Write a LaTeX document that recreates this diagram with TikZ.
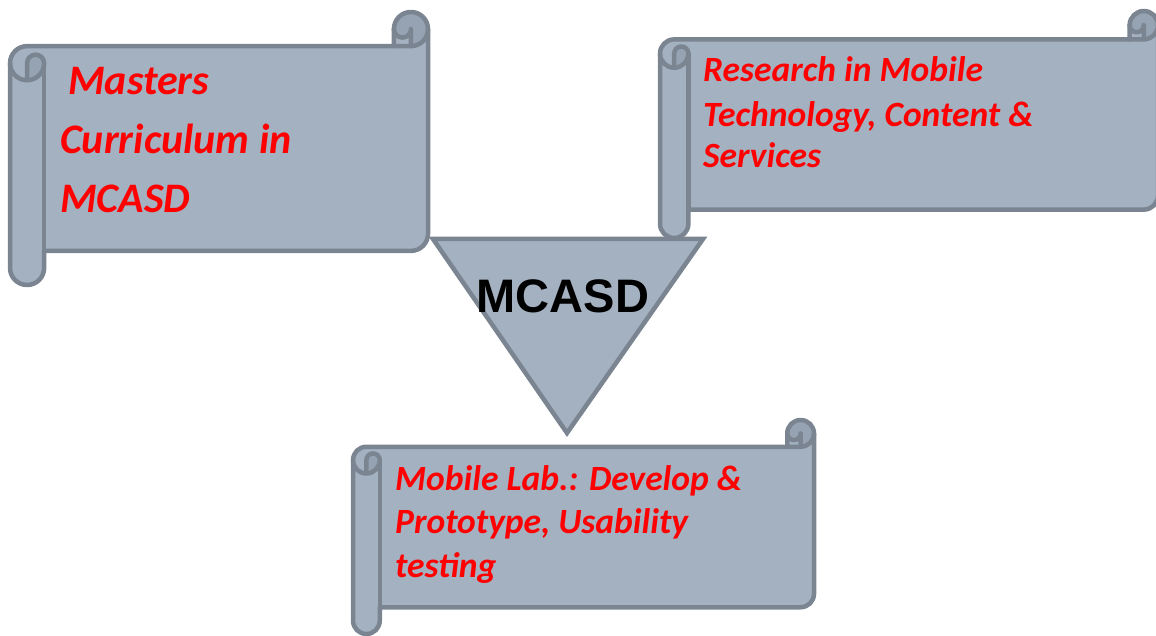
\documentclass[tikz,border=0pt]{standalone}
\usepackage{fontspec}
\setmainfont{Carlito}
\newfontfamily\arialb{Liberation Sans}
\definecolor{scrollfill}{HTML}{A3B1C0}
\definecolor{scrolldark}{HTML}{95A3B2}
\definecolor{scrollline}{HTML}{7A8591}
\definecolor{txtred}{HTML}{FF0000}
\tikzset{
  sline/.style={draw=scrollline,line width=4.5pt,line join=round,line cap=round},
  redtxt/.style={text=txtred,inner sep=0pt,anchor=base west,font=\bfseries\itshape\fontsize{#1}{#1}\selectfont},
}
\newcommand\myscroll[5]{% L T R B (pixels, y down), name
 \pgfmathsetmacro\sW{#3-#1}%
 \pgfmathsetmacro\sH{#4-#2}%
 \pgfmathsetmacro\sc{min(\sW,\sH)*0.125}%
 \pgfmathsetmacro\scc{\sc/2}%
 \pgfmathsetmacro\scq{\sc/4}%
 \begin{scope}[shift={(#1,{635-#4})}]
  \coordinate (#5) at ({\sW/2},{\sH/2});
  \fill[scrollfill] (\sW,\sH-\scc) arc[start angle=0,end angle=-90,radius=\scc]
    -- (\sW-\scc,\sH-\scc) arc[start angle=0,end angle=-180,radius=\scq]
    -- (\sW-\sc,\sH-\sc) -- (\scc,\sH-\sc) arc[start angle=90,end angle=180,radius=\scc]
    -- (0,\scc) arc[start angle=-180,end angle=0,radius=\scc]
    -- (\sc,\sc) -- (\sW-\scc,\sc) arc[start angle=-90,end angle=0,radius=\scc] -- cycle;
  \fill[scrolldark] (\scc,\sH-2*\sc) arc[start angle=-90,end angle=0,radius=\scc]
    arc[start angle=0,end angle=180,radius=\scq] -- cycle;
  \fill[scrolldark] (\sW-\scc,\sH-\sc) arc[start angle=-90,end angle=180,radius=\scc]
    arc[start angle=-180,end angle=0,radius=\scq] -- cycle;
  \draw[sline] (0,\sH-1.5*\sc) arc[start angle=180,end angle=90,radius=\scc]
    -- (\sW-\sc,\sH-\sc) -- (\sW-\sc,\sH-\scc) arc[start angle=180,end angle=0,radius=\scc]
    -- (\sW,1.5*\sc) arc[start angle=0,end angle=-90,radius=\scc]
    -- (\sc,\sc) -- (\sc,\scc) arc[start angle=0,end angle=-180,radius=\scc] -- cycle;
  \draw[sline] (\sW-\sc,\sH-\sc) -- (\sW-\scc,\sH-\sc) arc[start angle=-90,end angle=0,radius=\scc];
  \draw[sline] (\sW-\scc,\sH-\sc) -- (\sW-\scc,\sH-\scc) arc[start angle=0,end angle=-180,radius=\scq];
  \draw[sline] (\scc,\sH-2*\sc) -- (\scc,\sH-1.5*\sc) arc[start angle=180,end angle=0,radius=\scq]
    arc[start angle=0,end angle=-180,radius=\scc];
  \draw[sline] (\sc,\sH-1.5*\sc) -- (\sc,\sc);
 \end{scope}}
\begin{document}
\begin{tikzpicture}[x=1pt,y=1pt]
\useasboundingbox (0,0) rectangle (1156,635);
\clip (0,0) rectangle (1156,635);
% triangle
\coordinate (tl) at (433,396);
\coordinate (tr) at (703,396);
\coordinate (tb) at (567,202);
\draw[sline,fill=scrollfill,line join=miter] (tl) -- (tr) -- (tb) -- cycle;
% scrolls
\myscroll{10}{12}{428}{285}{s1}
\myscroll{660}{11}{1158}{238}{s2}
\myscroll{353}{420}{814}{634}{s3}
% centre label
\node[inner sep=0pt,anchor=base,font=\arialb\bfseries\fontsize{47}{47}\selectfont] (mc) at (563,322) {MCASD};
% texts
\node[redtxt=42] (s1a) at (68,540) {Masters};
\node[redtxt=42] (s1b) at (60,481) {Curriculum in};
\node[redtxt=42] (s1c) at (60,422) {MCASD};
\node[redtxt=35.5] (s2a) at (703,553) {Research in Mobile};
\node[redtxt=35.5] (s2b) at (703,508) {Technology, Content \&};
\node[redtxt=35.5] (s2c) at (703,467) {Services};
\node[redtxt=35.5] (s3a) at (395,145) {Mobile Lab.: Develop \&};
\node[redtxt=35.5] (s3b) at (395,102) {Prototype, Usability};
\node[redtxt=35.5] (s3c) at (395,58) {testing};
\end{tikzpicture}
\end{document}
